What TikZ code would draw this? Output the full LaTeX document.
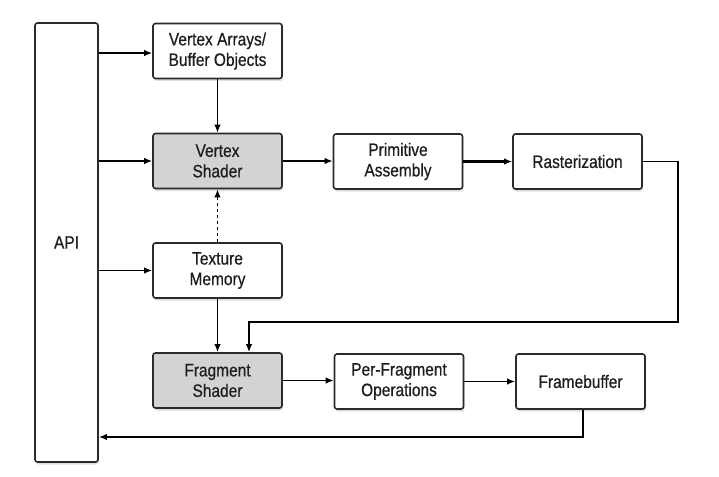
\documentclass[tikz,border=0pt]{standalone}
\usepackage{fontspec}
\setmainfont[FakeStretch=0.86,FakeBold=0.6]{Liberation Sans}
\usetikzlibrary{arrows.meta,shadows,calc}
\definecolor{edge}{HTML}{2A2A2A}
\definecolor{txt}{HTML}{1E1E1E}
\definecolor{shade}{HTML}{D3D3D3}
\tikzset{
  box/.style={draw=edge, line width=1.6pt, rounded corners=2.5pt, fill=white,
    minimum width=129pt, minimum height=55pt, align=center, text=txt,
    font=\fontsize{18}{20.5}\selectfont, inner sep=0pt,
    drop shadow={shadow xshift=1pt, shadow yshift=-2.5pt, opacity=0.25}},
  shaderbox/.style={box, fill=shade},
  arr/.style={draw=black, line width=1.6pt, -{Latex[length=8pt,width=6.5pt]}},
  plain/.style={draw=black, line width=1.6pt}
}
\begin{document}
\begin{tikzpicture}[x=1pt,y=-1pt]
\useasboundingbox (0,0) rectangle (719,476);
\node[box, minimum width=63pt, minimum height=439pt] (API) at (66.5,242.5) {API};
\node[box] (VA) at (217.5,51) {Vertex Arrays/\\Buffer Objects};
\node[shaderbox] (VS) at (217.5,161) {Vertex\\Shader};
\node[box] (TM) at (217.5,270.5) {Texture\\Memory};
\node[shaderbox] (FS) at (217.5,380.5) {Fragment\\Shader};
\node[box] (PA) at (398,161.5) {Primitive\\Assembly};
\node[box] (RA) at (577.5,161.5) {Rasterization};
\node[box] (PF) at (399,381.5) {Per-Fragment\\Operations};
\node[box] (FB) at (580.5,381.5) {Framebuffer};
\coordinate (r1) at (678,322);
\coordinate (f1) at (249,322);
\coordinate (b1) at (583,437);
% API to boxes
\draw[arr] (API.east |- 0,53) -- (VA.west |- 0,53);
\draw[arr] (API.east |- VS.west) -- (VS.west);
\draw[arr] (API.east |- TM.west) -- (TM.west);
% vertical flows
\draw[arr] (VA.south) -- (VS.north);
\draw[arr, dash pattern=on 3pt off 3pt] (TM.north) -- (VS.south);
\draw[arr] (TM.south) -- (FS.north);
% horizontal flows
\draw[arr] (VS.east) -- (PA.west |- VS.east);
\draw[arr, line width=2.1pt] (PA.east) -- (RA.west);
\draw[arr] (FS.east) -- (PF.west |- FS.east);
\draw[arr] (PF.east) -- (FB.west);
% loops
\draw[arr] (RA.east) -| (r1) -- (f1) -- (f1 |- FS.north);
\draw[arr] (FB.south -| b1) -- (b1) -- (b1 -| API.east);
\end{tikzpicture}
\end{document}
